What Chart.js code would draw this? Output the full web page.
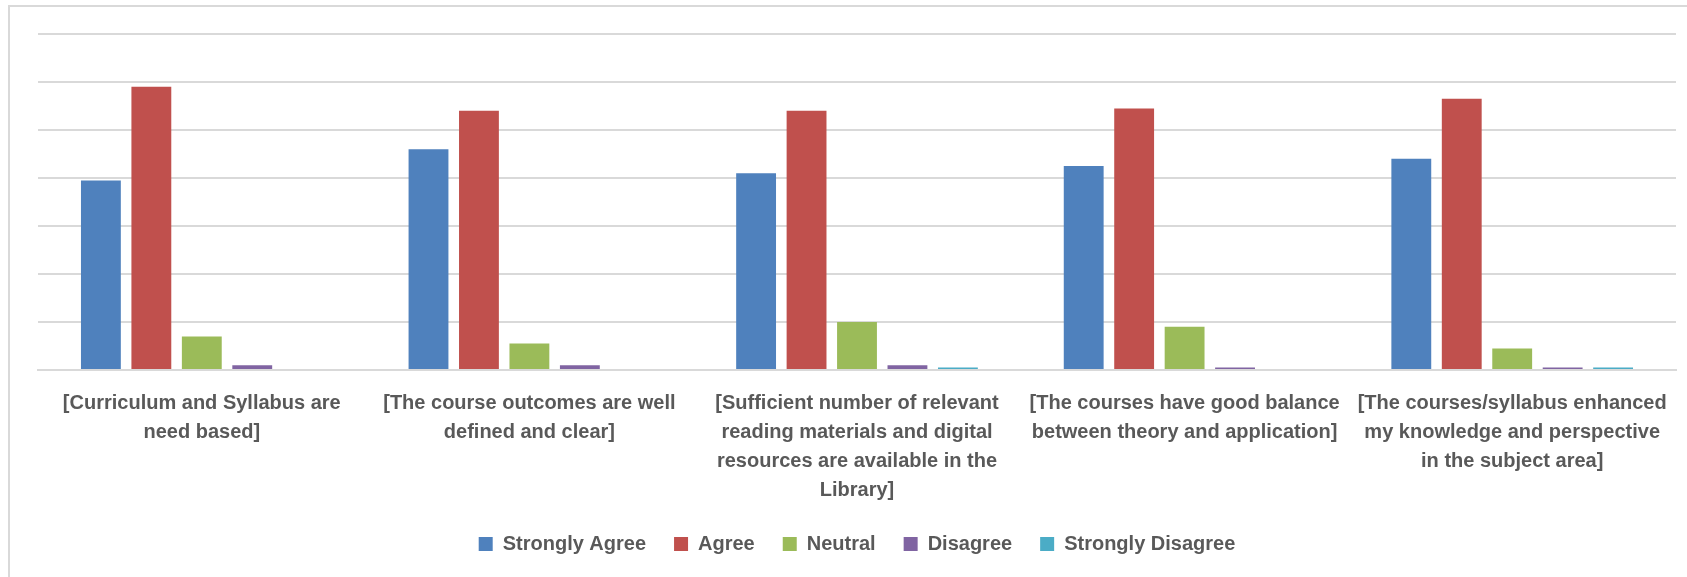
<!DOCTYPE html>
<html>
<head>
<meta charset="utf-8">
<script src="https://cdn.jsdelivr.net/npm/chart.js@4/dist/chart.umd.min.js"></script>
<style>
  html, body { margin: 0; padding: 0; background: #ffffff; }
  #wrap { position: relative; width: 1687px; height: 577px; overflow: hidden; background: #fff; }
  #frame { position: absolute; left: 8px; top: 5px; width: 1700px; height: 600px;
           border-left: 2px solid #d9d9d9; border-top: 2px solid #d9d9d9; box-sizing: border-box; }
  canvas { position: absolute; left: 0; top: 0; }
</style>
</head>
<body>
<div id="wrap">
  <div id="frame"></div>
  <canvas id="c" width="1687" height="577"></canvas>
</div>
<script>
const categories = [
  ["[Curriculum and Syllabus are", "need based]"],
  ["[The course outcomes are well", "defined and clear]"],
  ["[Sufficient number of relevant", "reading materials and digital", "resources are available in the", "Library]"],
  ["[The courses have good balance", "between theory and application]"],
  ["[The courses/syllabus enhanced", "my knowledge and perspective", "in the subject area]"]
];
const seriesNames = ["Strongly Agree", "Agree", "Neutral", "Disagree", "Strongly Disagree"];
const stronglyAgree    = [79, 92, 82, 85, 88];
const agree            = [118, 108, 108, 109, 113];
const neutral          = [14, 11, 20, 18, 9];
const disagree         = [2, 2, 2, 1, 1];
const stronglyDisagree = [0, 0, 1, 0, 1];
const yTicks = [0, 20, 40, 60, 80, 100, 120, 140];

const colors = ["#4F81BD", "#C0504D", "#9BBB59", "#8064A2", "#4BACC6"];
const seriesValues = [stronglyAgree, agree, neutral, disagree, stronglyDisagree];

const textColor = "#595959";
const fontFamily = "'Liberation Sans', Arial, sans-serif";

new Chart(document.getElementById('c'), {
  type: 'bar',
  data: {
    labels: categories,
    datasets: seriesNames.map((name, i) => ({
      label: name,
      data: seriesValues[i],
      backgroundColor: colors[i],
      borderWidth: 0,
      categoryPercentage: 0.77,
      barPercentage: 0.79
    }))
  },
  options: {
    responsive: false,
    animation: false,
    layout: { padding: { left: 38, right: 11, top: 34, bottom: 13 } },
    plugins: {
      tooltip: { enabled: false },
      legend: {
        position: 'bottom',
        labels: {
          boxWidth: 14,
          boxHeight: 14,
          padding: 28,
          color: textColor,
          font: { family: fontFamily, size: 20, weight: 'bold' }
        }
      }
    },
    scales: {
      x: {
        grid: { display: false, drawTicks: false },
        border: { display: true, color: '#d9d9d9', width: 2 },
        ticks: {
          color: textColor,
          padding: 19,
          maxRotation: 0,
          autoSkip: false,
          font: { family: fontFamily, size: 20, weight: 'bold', lineHeight: 1.45 }
        },
        afterFit: (scale) => { scale.height = 136; }
      },
      y: {
        min: yTicks[0],
        max: yTicks[yTicks.length - 1],
        afterBuildTicks: (scale) => { scale.ticks = yTicks.map(v => ({ value: v })); },
        grid: { color: '#d9d9d9', lineWidth: 2, drawTicks: false },
        border: { display: false },
        ticks: { display: false }
      }
    }
  }
});
</script>
</body>
</html>
